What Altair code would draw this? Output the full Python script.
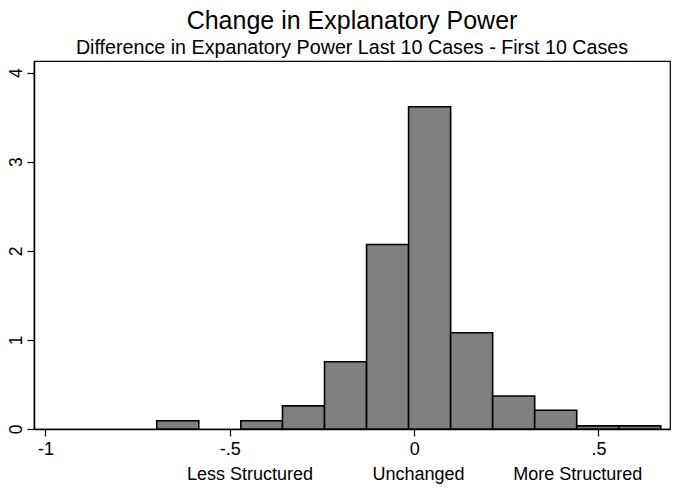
import altair as alt
import pandas as pd

# Histogram bins
bin_left = [-0.698, -0.584, -0.470, -0.357, -0.243, -0.129, -0.015, 0.099, 0.213, 0.327, 0.441, 0.555]
bin_right = [-0.584, -0.470, -0.357, -0.243, -0.129, -0.015, 0.099, 0.213, 0.327, 0.441, 0.555, 0.669]
density = [0.093, 0.0, 0.093, 0.26, 0.755, 2.07, 3.617, 1.08, 0.37, 0.21, 0.035, 0.035]

x_ticks = [-1, -0.5, 0, 0.5]
x_tick_labels = ["-1", "-.5", "0", ".5"]
y_ticks = [0, 1, 2, 3, 4]
cat_pos = [-0.445, 0.012, 0.444]
cat_labels = ["Less Structured", "Unchanged", "More Structured"]

FONT = "Liberation Sans"
W, H = 636, 368

bars = pd.DataFrame({"x0": bin_left, "x1": bin_right, "d": density})
bars = bars[bars["d"] > 0]
cats = pd.DataFrame({"x": cat_pos, "label": cat_labels})

label_expr = " : ".join(
    [f"datum.value == {v} ? '{l}'" for v, l in zip(x_ticks[:-1], x_tick_labels[:-1])]
) + f" : '{x_tick_labels[-1]}'"

xscale = alt.Scale(domain=[-1.031, 0.694], nice=False, zero=False)
yscale = alt.Scale(domain=[0, 4.13], nice=False)

hist = alt.Chart(bars).mark_rect(
    fill="#808080", stroke="black", strokeWidth=1.6
).encode(
    x=alt.X("x0:Q", scale=xscale, title=None,
            axis=alt.Axis(values=x_ticks, labelExpr=label_expr, grid=False,
                          domainColor="black", domainWidth=1.5,
                          tickColor="black", tickWidth=1.2, tickSize=7,
                          labelFont=FONT, labelFontSize=18, labelColor="black",
                          labelPadding=4, labelFlush=False)),
    x2="x1:Q",
    y=alt.Y("d:Q", scale=yscale, title=None,
            axis=alt.Axis(values=y_ticks, grid=False, labelAngle=270,
                          labelAlign="center", labelBaseline="middle",
                          domainColor="black", domainWidth=1.5,
                          tickColor="black", tickWidth=1.2, tickSize=7,
                          labelFont=FONT, labelFontSize=17.5, labelColor="black",
                          labelPadding=10.5, labelFlush=False)),
    y2=alt.datum(0),
)

cat_text = alt.Chart(cats).mark_text(
    font=FONT, fontSize=18, color="black", baseline="alphabetic", align="center"
).encode(
    x=alt.X("x:Q", scale=xscale),
    y=alt.value(H + 51),
    text="label:N",
)

chart = alt.layer(hist, cat_text).properties(
    width=W, height=H,
    title=alt.TitleParams(
        text="Change in Explanatory Power",
        subtitle="Difference in Expanatory Power Last 10 Cases - First 10 Cases",
        anchor="middle", frame="group", font=FONT, fontSize=25, fontWeight="normal",
        color="black", subtitleFont=FONT, subtitleFontSize=19.7,
        subtitleColor="black", subtitlePadding=4, offset=3,
    ),
    autosize=alt.AutoSizeParams(type="none"),
    padding={"left": 26, "top": 53, "right": 2, "bottom": 60},
    background="white",
).configure_view(stroke="black", strokeWidth=1.2)

chart.save("out.html", embed_options={"renderer": "svg", "actions": False})
